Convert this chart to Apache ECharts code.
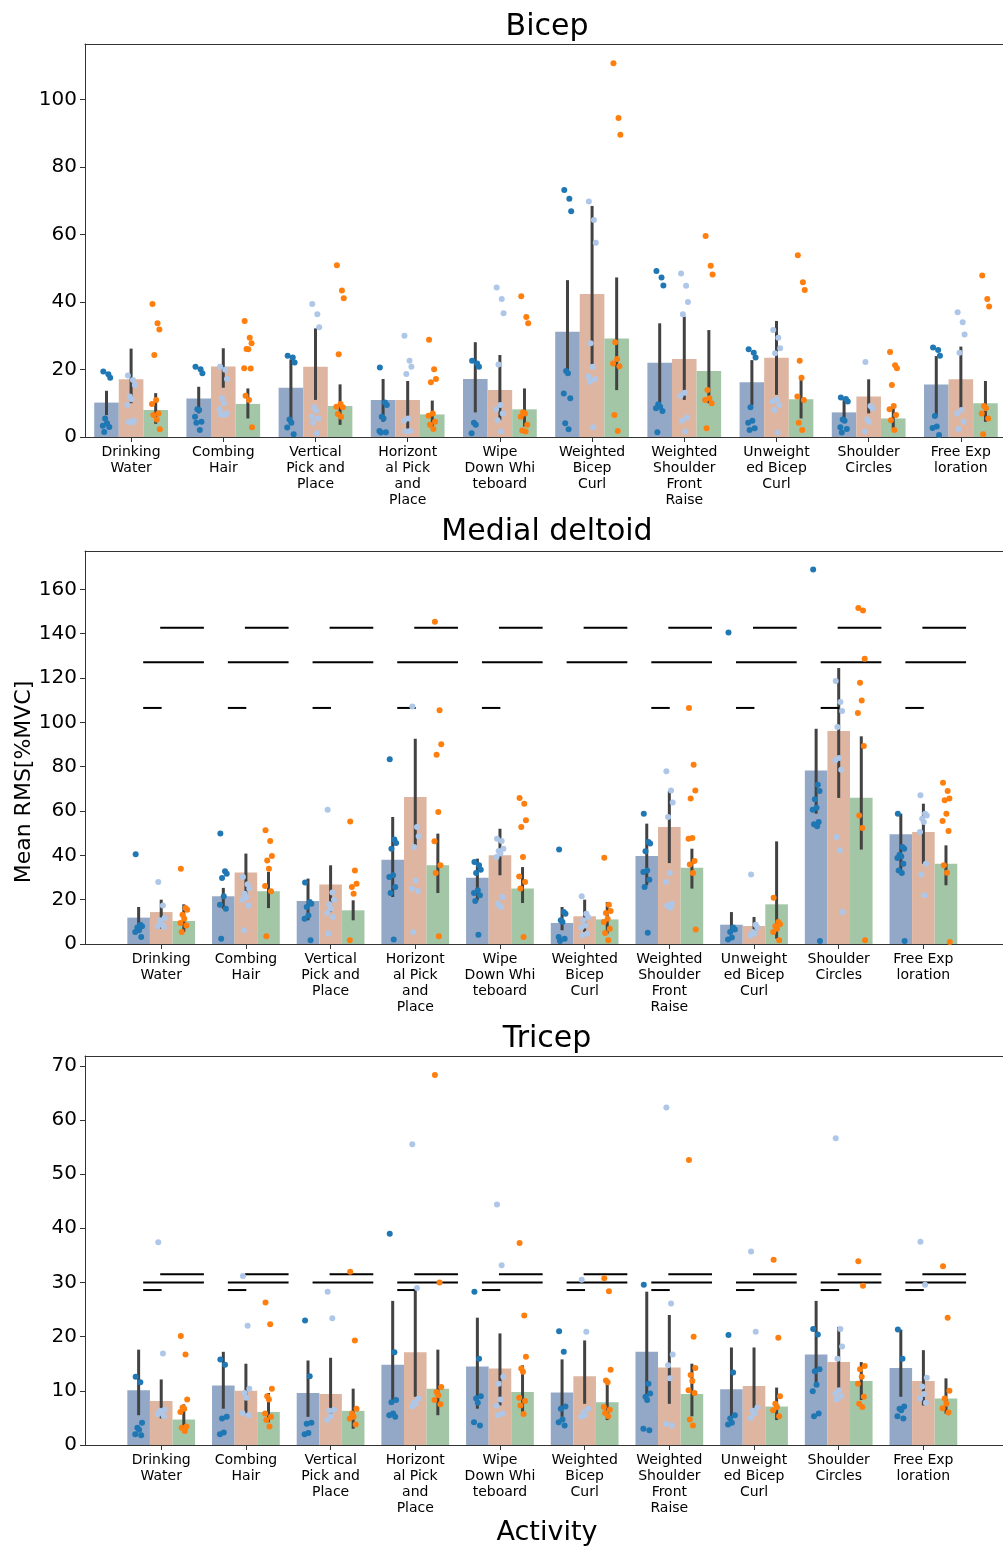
<!DOCTYPE html>
<html>
<head>
<meta charset="utf-8">
<script src="https://cdn.jsdelivr.net/npm/echarts@6/dist/echarts.min.js"></script>
<style>
html, body { margin: 0; padding: 0; background: #fff; }
#chart { width: 1003px; height: 1549px; }
</style>
</head>
<body>
<div id="chart"></div>
<script>
// 活动类别
var categories = ['Drinking\nWater', 'Combing\nHair', 'Vertical\nPick and\nPlace', 'Horizont\nal Pick\nand\nPlace',
    'Wipe\nDown Whi\nteboard', 'Weighted\nBicep\nCurl', 'Weighted\nShoulder\nFront\nRaise', 'Unweight\ned Bicep\nCurl',
    'Shoulder\nCircles', 'Free Exp\nloration'];

// ---- Bicep ----
var bicepMean = [
    [10.2, 11.4, 14.6, 11.0, 17.2, 31.2, 22.0, 16.2, 7.3, 15.6],
    [17.1, 20.9, 20.8, 11.0, 13.9, 42.4, 23.1, 23.5, 12.0, 17.1],
    [8.0, 9.8, 9.2, 6.7, 8.2, 29.2, 19.6, 11.2, 5.5, 10.0]
];
var bicepLow = [
    [6.5, 7.0, 4.5, 4.5, 7.3, 18.4, 10.0, 9.5, 5.0, 6.0],
    [10.0, 14.6, 11.0, 2.5, 5.0, 20.8, 11.0, 12.5, 7.0, 7.5],
    [3.9, 5.5, 3.6, 2.6, 3.1, 13.9, 10.0, 5.5, 2.6, 4.5]
];
var bicepHigh = [
    [13.7, 14.9, 23.0, 17.2, 28.1, 46.5, 33.7, 22.8, 11.0, 24.0],
    [26.2, 26.3, 32.2, 16.6, 24.3, 68.5, 35.7, 34.4, 17.1, 26.8],
    [13.0, 14.4, 15.6, 10.8, 14.4, 47.3, 31.7, 17.6, 9.5, 16.6]
];
var bicepPts = [
    [[19.4, 18.6, 17.6, 5.5, 4.1, 3.3, 3.0, 1.5], [20.8, 20.1, 18.9, 8.2, 8.0, 6.0, 4.5, 4.2, 2.1],
     [24.1, 23.6, 22.1, 5.2, 4.2, 2.8, 0.8], [20.6, 10.2, 9.5, 6.0, 5.5, 1.8, 1.4, 1.3],
     [22.6, 21.8, 20.8, 4.2, 3.6, 1.1], [73.2, 70.6, 66.9, 19.6, 18.9, 12.9, 11.5, 4.1, 2.3],
     [49.2, 47.3, 44.9, 9.7, 9.0, 8.5, 7.7, 1.4], [26.0, 25.0, 23.6, 8.8, 4.8, 4.2, 2.6, 2.1],
     [11.7, 11.3, 10.5, 5.2, 4.8, 2.9, 2.4, 1.3], [26.5, 25.8, 24.1, 6.2, 3.1, 2.7, 0.6]],
    [[18.2, 16.9, 15.4, 12.0, 11.2, 9.5, 4.8, 4.5, 4.3], [20.8, 19.9, 17.2, 11.5, 10.0, 8.2, 7.0, 6.7, 6.5],
     [39.4, 36.4, 32.5, 8.8, 7.8, 6.0, 5.5, 4.2, 1.1], [30.0, 22.6, 20.8, 18.7, 5.5, 4.8, 1.8, 1.6],
     [44.3, 40.9, 36.7, 21.5, 9.5, 8.2, 7.0, 5.0, 1.6], [69.8, 64.3, 57.6, 27.8, 20.8, 17.9, 17.1, 16.4, 2.9],
     [48.5, 44.8, 40.0, 36.4, 13.1, 12.2, 5.8, 4.8, 1.6], [31.7, 29.4, 26.3, 24.8, 11.2, 10.5, 9.5, 8.0, 1.3],
     [22.2, 9.2, 8.5, 5.2, 4.5, 1.6], [37.0, 34.0, 30.4, 25.0, 8.0, 7.0, 4.5, 2.4]],
    [[39.4, 33.7, 31.9, 24.3, 11.0, 9.8, 7.0, 6.5, 5.2, 2.3], [34.4, 29.4, 27.8, 26.1, 26.0, 20.4, 20.3, 12.2, 11.0, 2.9],
     [50.9, 43.4, 41.1, 24.5, 9.8, 9.0, 8.8, 6.8, 6.0], [28.8, 20.1, 17.2, 16.2, 7.0, 6.3, 4.5, 3.6, 2.4],
     [41.7, 35.6, 33.7, 7.3, 7.0, 6.0, 3.6, 1.9, 1.6], [110.8, 94.6, 89.6, 28.1, 23.1, 21.8, 21.0, 6.5, 1.8],
     [59.6, 50.8, 48.2, 13.9, 11.5, 11.0, 10.0, 2.6], [53.9, 45.9, 43.6, 22.6, 17.6, 12.0, 11.0, 4.2, 2.1],
     [25.2, 21.3, 20.4, 15.4, 9.2, 8.2, 6.5, 5.0, 2.1], [47.9, 40.9, 38.7, 9.2, 8.5, 7.0, 5.5, 0.8]]
];

// ---- Medial deltoid ----
var medialMean = [
    [11.9, 21.5, 19.4, 38.0, 29.9, 9.5, 39.7, 8.7, 78.3, 49.5],
    [14.4, 32.3, 26.8, 66.3, 40.0, 12.5, 52.8, 8.1, 96.1, 50.5],
    [10.4, 23.8, 15.2, 35.5, 25.0, 11.1, 34.4, 17.9, 66.0, 36.2]
];
var medialLow = [
    [6.2, 15.9, 10.7, 21.2, 19.7, 6.2, 26.5, 4.7, 58.8, 33.2],
    [6.9, 21.2, 14.4, 44.5, 31.0, 5.4, 36.5, 4.7, 65.9, 36.2],
    [5.4, 16.2, 10.7, 23.0, 18.5, 4.7, 25.0, 2.4, 42.6, 26.5]
];
var medialHigh = [
    [16.7, 25.3, 29.5, 57.3, 38.5, 16.7, 54.3, 14.4, 97.1, 58.8],
    [20.0, 40.8, 35.5, 92.6, 52.0, 20.0, 69.0, 12.2, 124.5, 63.3],
    [17.9, 32.5, 19.7, 49.8, 34.7, 18.9, 43.0, 46.3, 93.7, 44.5]
];
var medialPts = [
    [[40.5, 8.7, 8.0, 7.4, 6.2, 5.4, 3.2], [49.8, 32.8, 31.7, 29.8, 21.5, 17.7, 15.9, 2.4],
     [27.7, 18.9, 18.2, 16.7, 12.9, 11.4, 1.7], [83.3, 47.1, 45.6, 43.0, 31.0, 30.2, 25.7, 23.0, 2.0],
     [37.0, 35.5, 33.5, 32.0, 24.2, 23.0, 22.0, 19.4, 4.2], [42.6, 14.4, 13.7, 10.7, 9.9, 3.2, 2.4, 1.4],
     [58.8, 46.0, 45.3, 41.8, 33.2, 32.5, 29.0, 25.7, 5.1], [140.5, 7.4, 6.5, 5.4, 2.9, 2.0],
     [168.9, 71.9, 69.0, 65.3, 61.5, 60.6, 55.0, 54.0, 53.1, 1.4], [58.8, 43.8, 43.0, 40.3, 39.5, 38.8, 36.2, 33.2, 32.0, 1.4]],
    [[28.0, 17.4, 11.7, 10.7, 8.9, 8.0, 7.7], [30.2, 26.9, 25.0, 22.7, 21.2, 20.0, 17.4, 6.2],
     [60.6, 23.2, 20.0, 17.9, 15.9, 14.0, 12.2, 4.7], [107.2, 52.8, 48.6, 43.8, 28.7, 25.0, 23.9, 5.3],
     [47.5, 46.5, 43.0, 42.0, 40.8, 39.2, 21.2, 18.2, 16.7], [21.5, 13.7, 12.2, 10.7, 8.4, 7.4, 4.7, 3.9],
     [77.9, 69.3, 63.8, 57.3, 32.0, 28.0, 18.2, 17.4, 16.4], [31.4, 8.7, 7.4, 5.4, 4.7, 3.9],
     [118.6, 109.2, 105.1, 97.9, 83.9, 82.9, 78.6, 48.3, 42.3, 14.4], [67.1, 58.8, 58.0, 56.5, 55.0, 50.5, 36.2, 31.4, 22.0]],
    [[34.0, 16.2, 15.5, 13.2, 11.4, 9.5, 8.4, 5.4], [51.3, 46.5, 39.7, 37.7, 34.0, 26.2, 23.8, 3.5],
     [55.3, 33.2, 27.2, 25.7, 22.7, 1.7], [145.4, 105.4, 90.1, 85.4, 59.5, 46.3, 35.5, 32.0, 3.5],
     [65.9, 63.3, 55.8, 52.8, 39.2, 30.5, 28.0, 25.0, 3.2], [38.9, 17.7, 14.9, 14.0, 11.4, 9.9, 6.9, 5.0, 1.7],
     [106.5, 80.9, 69.3, 65.6, 47.8, 47.5, 37.4, 35.9, 32.0, 6.5], [20.9, 9.9, 8.9, 8.0, 6.9, 5.4, 1.7],
     [151.6, 150.5, 128.7, 117.9, 109.9, 104.2, 89.3, 58.0, 52.3, 1.7], [72.8, 69.0, 65.6, 64.8, 58.8, 55.5, 51.0, 35.5, 32.2, 0.9]]
];
// 显著性线: 高度 + 出现的类别
var medialSigLevel = [106.5, 127.1, 142.7];
var medialSigCats = [
    [0, 1, 2, 3, 4, 6, 7, 8, 9],
    [0, 1, 2, 3, 4, 5, 6, 7, 8, 9],
    [0, 1, 2, 3, 4, 5, 6, 7, 8, 9]
];

// ---- Tricep ----
var tricepMean = [
    [10.1, 11.0, 9.6, 14.8, 14.5, 9.7, 17.2, 10.3, 16.7, 14.2],
    [8.1, 10.0, 9.4, 17.1, 14.1, 12.7, 14.3, 10.9, 15.3, 11.8],
    [4.7, 6.1, 6.3, 10.4, 9.8, 7.9, 9.4, 7.1, 11.8, 8.6]
];
var tricepLow = [
    [5.5, 6.7, 5.2, 8.3, 6.7, 5.2, 8.3, 4.9, 10.7, 8.9],
    [4.9, 5.8, 5.2, 8.9, 7.3, 7.6, 7.6, 6.1, 10.4, 7.3],
    [2.4, 4.2, 3.0, 5.5, 6.1, 4.6, 5.3, 4.6, 8.3, 5.8]
];
var tricepHigh = [
    [17.6, 17.2, 15.6, 26.6, 23.5, 15.8, 28.3, 18.0, 26.6, 21.3],
    [12.1, 15.0, 16.1, 28.9, 20.6, 19.3, 24.0, 18.0, 21.8, 17.5],
    [7.5, 9.6, 10.4, 17.6, 14.7, 11.9, 15.0, 10.6, 15.3, 12.3]
];
var tricepPts = [
    [[12.6, 11.6, 4.1, 3.2, 2.8, 2.0, 1.8], [15.8, 14.8, 5.2, 4.9, 2.3, 2.0],
     [23.0, 12.7, 4.1, 3.9, 2.2, 2.0], [39.0, 17.1, 8.3, 7.9, 5.8, 5.5, 5.2],
     [28.3, 15.9, 9.0, 8.6, 7.8, 4.2, 3.6], [21.0, 17.2, 7.1, 6.7, 4.7, 4.2, 3.6],
     [29.6, 11.3, 9.5, 8.9, 8.3, 3.0, 2.7], [20.3, 13.4, 5.5, 4.9, 4.1, 3.8],
     [21.4, 20.4, 14.0, 13.6, 11.1, 9.9, 5.8, 5.3], [21.3, 15.9, 7.1, 6.7, 6.4, 5.3, 4.9]],
    [[37.4, 16.9, 6.5, 6.3, 5.9, 5.7, 5.3], [31.2, 22.0, 10.4, 9.6, 8.7, 5.9, 5.5],
     [28.3, 23.4, 6.5, 6.3, 5.3, 4.6], [55.5, 29.0, 8.6, 7.9, 7.6, 7.1],
     [44.4, 33.2, 12.6, 11.3, 8.4, 7.3, 5.8, 5.5], [30.5, 20.9, 6.7, 6.1, 5.5, 5.2],
     [62.3, 26.1, 16.7, 14.7, 12.3, 3.9, 3.6], [35.7, 20.9, 6.9, 6.3, 5.8, 5.0],
     [56.6, 21.4, 18.2, 15.9, 10.1, 9.5, 9.0, 8.4], [37.5, 29.6, 12.4, 10.8, 9.4, 8.6, 7.8]],
    [[20.1, 16.7, 8.4, 6.9, 6.7, 6.1, 3.4, 3.2, 2.6], [26.3, 22.3, 10.4, 9.0, 8.4, 5.8, 5.2, 4.6, 3.4],
     [32.0, 19.3, 6.7, 5.8, 5.2, 4.9, 3.8], [68.3, 30.0, 10.7, 9.8, 9.2, 8.3, 7.5],
     [37.3, 23.9, 16.3, 14.1, 13.5, 8.7, 8.1, 7.3, 5.7], [30.8, 28.4, 13.9, 11.9, 11.6, 7.0, 6.5, 5.9, 5.3],
     [52.6, 20.0, 14.2, 12.9, 11.8, 10.1, 9.6, 4.7, 3.6], [34.2, 19.8, 9.0, 7.6, 7.0, 6.4, 5.3],
     [33.9, 29.4, 14.6, 14.0, 12.6, 11.3, 8.9, 7.6, 7.0], [33.0, 23.5, 10.0, 8.6, 7.6, 6.8, 6.0]]
];
var tricepSigLevel = [28.6, 30.0, 31.5];
var tricepSigCats = [
    [0, 1, 3, 4, 5, 6, 7, 8, 9],
    [0, 1, 2, 3, 4, 5, 6, 7, 8, 9],
    [0, 1, 2, 3, 4, 5, 6, 7, 8, 9]
];

var bicepTicks = [0, 20, 40, 60, 80, 100];
var medialTicks = [0, 20, 40, 60, 80, 100, 120, 140, 160];
var tricepTicks = [0, 10, 20, 30, 40, 50, 60, 70];

// 样式
var BAR_COLORS = ['#93a8c6', '#deb5a0', '#a2c6a6'];
var PT_COLORS = ['#1f77b4', '#aec7e8', '#ff7f0e'];
var BW = 0.8 / 3;
var OFFS = [-BW, 0, BW];
var JIT = [-0.035, 0.02, 0.04, -0.015, 0.005, -0.04, 0.03, -0.025, 0.012, 0.045];
var SIG_SPAN = [[-0.213, 0.005], [-0.213, 0.504], [-0.012, 0.504]];
var FONT = 'DejaVu Sans';
var catIdx = [0, 1, 2, 3, 4, 5, 6, 7, 8, 9];
var AX = '#333';

// 画布右侧截断: 坐标系一直延伸到画布右边缘
var panels = [
    {top: 44, height: 393, xmin: -0.5, xmax: 9.457, ymax: 116.5, ticks: bicepTicks,
        mean: bicepMean, low: bicepLow, high: bicepHigh, pts: bicepPts, sigLevel: null},
    {top: 551, height: 393, xmin: -0.9, xmax: 9.94, ymax: 177.3, ticks: medialTicks,
        mean: medialMean, low: medialLow, high: medialHigh, pts: medialPts, sigLevel: medialSigLevel, sigCats: medialSigCats},
    {top: 1056, height: 389, xmin: -0.9, xmax: 9.94, ymax: 71.8, ticks: tricepTicks,
        mean: tricepMean, low: tricepLow, high: tricepHigh, pts: tricepPts, sigLevel: tricepSigLevel, sigCats: tricepSigCats}
];

var grids = [], xAxes = [], yAxes = [], series = [];

panels.forEach(function (p, k) {
    grids.push({left: 85, right: 0, top: p.top, height: p.height});
    xAxes.push({
        gridIndex: k, type: 'value', min: p.xmin, max: p.xmax,
        splitLine: {show: false},
        axisLine: {show: true, onZero: false, lineStyle: {color: AX, width: 1}},
        axisTick: {show: true, length: 5, customValues: catIdx, lineStyle: {color: AX}},
        axisLabel: {customValues: catIdx, margin: 7, color: '#000', fontSize: 14, lineHeight: 16, fontFamily: FONT,
            formatter: function (v) { return categories[Math.round(v)]; }}
    });
    // 顶部边框
    xAxes.push({
        gridIndex: k, type: 'value', position: 'top', min: p.xmin, max: p.xmax,
        splitLine: {show: false}, axisTick: {show: false}, axisLabel: {show: false},
        axisLine: {show: true, onZero: false, lineStyle: {color: AX, width: 1}}
    });
    yAxes.push({
        gridIndex: k, type: 'value', min: 0, max: p.ymax,
        splitLine: {show: false},
        axisLine: {show: true, onZero: false, lineStyle: {color: AX, width: 1}},
        axisTick: {show: true, length: 5, customValues: p.ticks, lineStyle: {color: AX}},
        axisLabel: {customValues: p.ticks, margin: 8, color: '#000', fontSize: 20, fontFamily: FONT}
    });

    var xi = k * 2;

    // 柱子 + 误差线
    var barData = [];
    for (var g = 0; g < 3; g++) {
        for (var c = 0; c < 10; c++) {
            barData.push([c + OFFS[g], p.mean[g][c], p.low[g][c], p.high[g][c], g]);
        }
    }
    series.push({
        type: 'custom', xAxisIndex: xi, yAxisIndex: k, data: barData, silent: true,
        encode: {x: 0, y: 1},
        renderItem: function (params, api) {
            var x = api.value(0), g = api.value(4);
            var a = api.coord([x - BW / 2, api.value(1)]);
            var b = api.coord([x + BW / 2, 0]);
            var e0 = api.coord([x, api.value(2)]);
            var e1 = api.coord([x, api.value(3)]);
            return {type: 'group', children: [
                {type: 'rect', shape: {x: a[0], y: a[1], width: b[0] - a[0], height: b[1] - a[1]},
                    style: {fill: BAR_COLORS[g]}},
                {type: 'line', shape: {x1: e0[0], y1: e0[1], x2: e1[0], y2: e1[1]},
                    style: {stroke: '#424242', lineWidth: 3}}
            ]};
        }
    });

    // 显著性线
    if (p.sigLevel) {
        var sigData = [];
        p.sigCats.forEach(function (cats, j) {
            cats.forEach(function (c) { sigData.push([c, p.sigLevel[j], j]); });
        });
        series.push({
            type: 'custom', xAxisIndex: xi, yAxisIndex: k, data: sigData, silent: true,
            encode: {x: 0, y: 1},
            renderItem: function (params, api) {
                var c = api.value(0), lv = api.value(1), j = api.value(2);
                var s = api.coord([c + SIG_SPAN[j][0], lv]);
                var e = api.coord([c + SIG_SPAN[j][1], lv]);
                return {type: 'line', shape: {x1: s[0], y1: s[1], x2: e[0], y2: e[1]},
                    style: {stroke: '#000', lineWidth: 2}};
            }
        });
    }

    // 散点
    for (var g2 = 0; g2 < 3; g2++) {
        var d = [];
        p.pts[g2].forEach(function (vals, c) {
            vals.forEach(function (v, i) {
                d.push([c + OFFS[g2] + JIT[i % JIT.length], v]);
            });
        });
        series.push({
            type: 'scatter', xAxisIndex: xi, yAxisIndex: k, data: d, silent: true,
            symbolSize: 6, itemStyle: {color: PT_COLORS[g2], opacity: 1}
        });
    }
});

var chart = echarts.init(document.getElementById('chart'));
chart.setOption({
    animation: false,
    grid: grids,
    xAxis: xAxes,
    yAxis: yAxes,
    series: series,
    graphic: [
        {type: 'text', x: 547, y: 27, style: {text: 'Bicep', fontSize: 30, fontFamily: FONT, fill: '#000', align: 'center', verticalAlign: 'middle'}},
        {type: 'text', x: 547, y: 532, style: {text: 'Medial deltoid', fontSize: 30, fontFamily: FONT, fill: '#000', align: 'center', verticalAlign: 'middle'}},
        {type: 'text', x: 547, y: 1039, style: {text: 'Tricep', fontSize: 30, fontFamily: FONT, fill: '#000', align: 'center', verticalAlign: 'middle'}},
        {type: 'text', x: 547, y: 1533, style: {text: 'Activity', fontSize: 27, fontFamily: FONT, fill: '#000', align: 'center', verticalAlign: 'middle'}},
        {type: 'text', x: 24, y: 782, rotation: Math.PI / 2, style: {text: 'Mean RMS[%MVC]', fontSize: 22, fontFamily: FONT, fill: '#000', align: 'center', verticalAlign: 'middle'}}
    ]
});
</script>
</body>
</html>
